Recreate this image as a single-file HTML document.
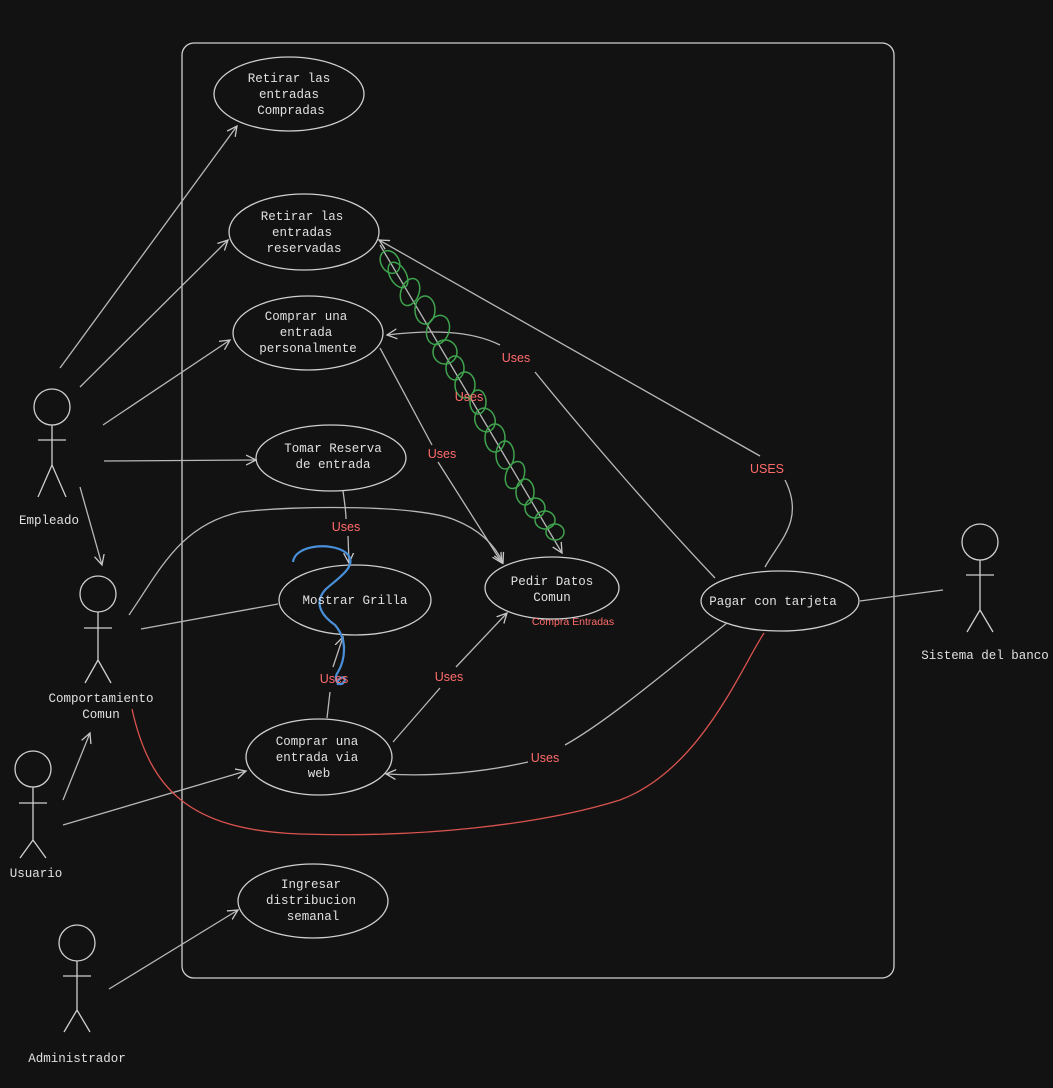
<!DOCTYPE html>
<html><head><meta charset="utf-8"><style>
html,body{margin:0;padding:0;background:#121212;}
svg{display:block}
text{font-family:"Liberation Mono",monospace;font-size:12.5px;fill:#e0e0e0;text-anchor:middle}
.l{font-family:"Liberation Sans",sans-serif;fill:#ff6b6b;font-size:12.5px}
</style></head><body>
<svg width="1053" height="1088" viewBox="0 0 1053 1088" xmlns="http://www.w3.org/2000/svg">
<defs><marker id="a" markerWidth="12" markerHeight="12" refX="10" refY="6" orient="auto" markerUnits="userSpaceOnUse"><path d="M0,1 L10,6 L0,11" fill="none" stroke="#c8c8c8" stroke-width="1.3"/></marker></defs>
<rect width="1053" height="1088" fill="#121212"/>
<g fill="none" stroke="#cfcfcf" stroke-width="1.3">
<rect x="182" y="43" width="712" height="935" rx="12"/>
<ellipse cx="289" cy="94" rx="75" ry="37"/>
<ellipse cx="304" cy="232" rx="75" ry="38"/>
<ellipse cx="308" cy="333" rx="75" ry="37"/>
<ellipse cx="331" cy="458" rx="75" ry="33"/>
<ellipse cx="355" cy="600" rx="76" ry="35"/>
<ellipse cx="552" cy="588" rx="67" ry="31"/>
<ellipse cx="780" cy="601" rx="79" ry="30"/>
<ellipse cx="319" cy="757" rx="73" ry="38"/>
<ellipse cx="313" cy="901" rx="75" ry="37"/>
<!-- actors -->
<g><circle cx="52" cy="407" r="18"/><path d="M52 425V465M38 440H66M52 465L38 497M52 465L66 497"/></g>
<g><circle cx="98" cy="594" r="18"/><path d="M98 612V660M84 628H112M98 660L85 683M98 660L111 683"/></g>
<g><circle cx="33" cy="769" r="18"/><path d="M33 787V840M19 803H47M33 840L20 858M33 840L46 858"/></g>
<g><circle cx="77" cy="943" r="18"/><path d="M77 961V1010M63 976H91M77 1010L64 1032M77 1010L90 1032"/></g>
<g><circle cx="980" cy="542" r="18"/><path d="M980 560V610M966 575H994M980 610L967 632M980 610L993 632"/></g>
</g>
<g fill="none" stroke="#b8b8b8" stroke-width="1.3" marker-end="url(#a)">
<path d="M60 368L237 126"/>
<path d="M80 387L228 240"/>
<path d="M103 425L230 340"/>
<path d="M104 461L256 460"/>
<path d="M80 487L102 565"/>
<path d="M63 800L90 733"/>
<path d="M63 825L246 771"/>
<path d="M109 989L238 910"/>
<path d="M129 615C160 570 180 525 240 512C300 505 420 505 455 520C480 530 495 545 503 563"/>
<path d="M343 491C345 505 346 515 346 519M348 536L349 563"/>
<path d="M380 348L432 445M438 462L502 563"/>
<path d="M715 578C660 520 590 440 535 372M500 345C470 330 430 330 387 335"/>
<path d="M765 567C780 540 805 520 785 480M760 456L379 240"/>
<path d="M327 718L330 692M333 667L343 637"/>
<path d="M393 742L440 688M456 667L507 613"/>
<path d="M727 623C680 660 610 720 565 745M528 762C470 775 420 776 386 774"/>
<path d="M380 245L562 553"/>
</g>
<path d="M141 629L278 604M943 590L860 601" fill="none" stroke="#b8b8b8" stroke-width="1.3"/>
<path d="M132 709C150 790 190 830 300 834C420 838 540 825 620 800C700 770 740 670 764 633" fill="none" stroke="#d9534f" stroke-width="1.3"/>
<!-- green scribble -->
<g fill="none" stroke="#3fa34d" stroke-width="1.5">
<ellipse cx="390" cy="262" rx="9" ry="12" transform="rotate(-30 390 262)"/>
<ellipse cx="398" cy="275" rx="8" ry="14" transform="rotate(-30 398 275)"/>
<ellipse cx="410" cy="292" rx="9" ry="14" transform="rotate(20 410 292)"/>
<ellipse cx="425" cy="310" rx="10" ry="14"/>
<ellipse cx="438" cy="330" rx="11" ry="15" transform="rotate(20 438 330)"/>
<ellipse cx="445" cy="352" rx="12" ry="12"/>
<ellipse cx="455" cy="368" rx="9" ry="12"/>
<ellipse cx="465" cy="385" rx="10" ry="13"/>
<ellipse cx="478" cy="402" rx="8" ry="12"/>
<ellipse cx="485" cy="420" rx="10" ry="12" transform="rotate(-20 485 420)"/>
<ellipse cx="495" cy="438" rx="10" ry="14"/>
<ellipse cx="505" cy="455" rx="9" ry="14"/>
<ellipse cx="515" cy="475" rx="9" ry="14" transform="rotate(20 515 475)"/>
<ellipse cx="525" cy="492" rx="9" ry="13"/>
<ellipse cx="535" cy="508" rx="10" ry="10"/>
<ellipse cx="545" cy="520" rx="10" ry="9"/>
<ellipse cx="555" cy="532" rx="9" ry="8"/>
</g>
<path d="M293 562C295 545 330 542 345 552C362 565 335 580 325 590C312 605 325 618 335 625C348 640 345 660 338 672C332 680 340 688 344 682C348 675 336 676 338 685" fill="none" stroke="#4a90d9" stroke-width="2.2"/>
<!-- text -->
<text x="289" y="82">Retirar las</text><text x="289" y="98">entradas</text><text x="291" y="114">Compradas</text>
<text x="302" y="220">Retirar las</text><text x="302" y="236">entradas</text><text x="304" y="252">reservadas</text>
<text x="306" y="320">Comprar una</text><text x="306" y="336">entrada</text><text x="308" y="352">personalmente</text>
<text x="333" y="452">Tomar Reserva</text><text x="333" y="468">de entrada</text>
<text x="355" y="604">Mostrar Grilla</text>
<text x="552" y="585">Pedir Datos</text><text x="552" y="601">Comun</text>
<text x="773" y="605">Pagar con tarjeta</text>
<text x="317" y="745">Comprar una</text><text x="317" y="761">entrada via</text><text x="319" y="777">web</text>
<text x="311" y="888">Ingresar</text><text x="311" y="904">distribucion</text><text x="313" y="920">semanal</text>
<text x="49" y="524">Empleado</text>
<text x="101" y="702">Comportamiento</text><text x="101" y="718">Comun</text>
<text x="36" y="877">Usuario</text>
<text x="77" y="1062">Administrador</text>
<text x="985" y="659">Sistema del banco</text>
<text class="l" x="346" y="531">Uses</text>
<text class="l" x="442" y="458">Uses</text>
<text class="l" x="516" y="362">Uses</text>
<text class="l" x="469" y="401">Uses</text>
<text class="l" x="767" y="473">USES</text>
<text class="l" x="334" y="683">Uses</text>
<text class="l" x="449" y="681">Uses</text>
<text class="l" x="545" y="762">Uses</text>
<text class="l" x="573" y="625" style="font-size:10.5px">Compra Entradas</text>
</svg>
</body></html>
